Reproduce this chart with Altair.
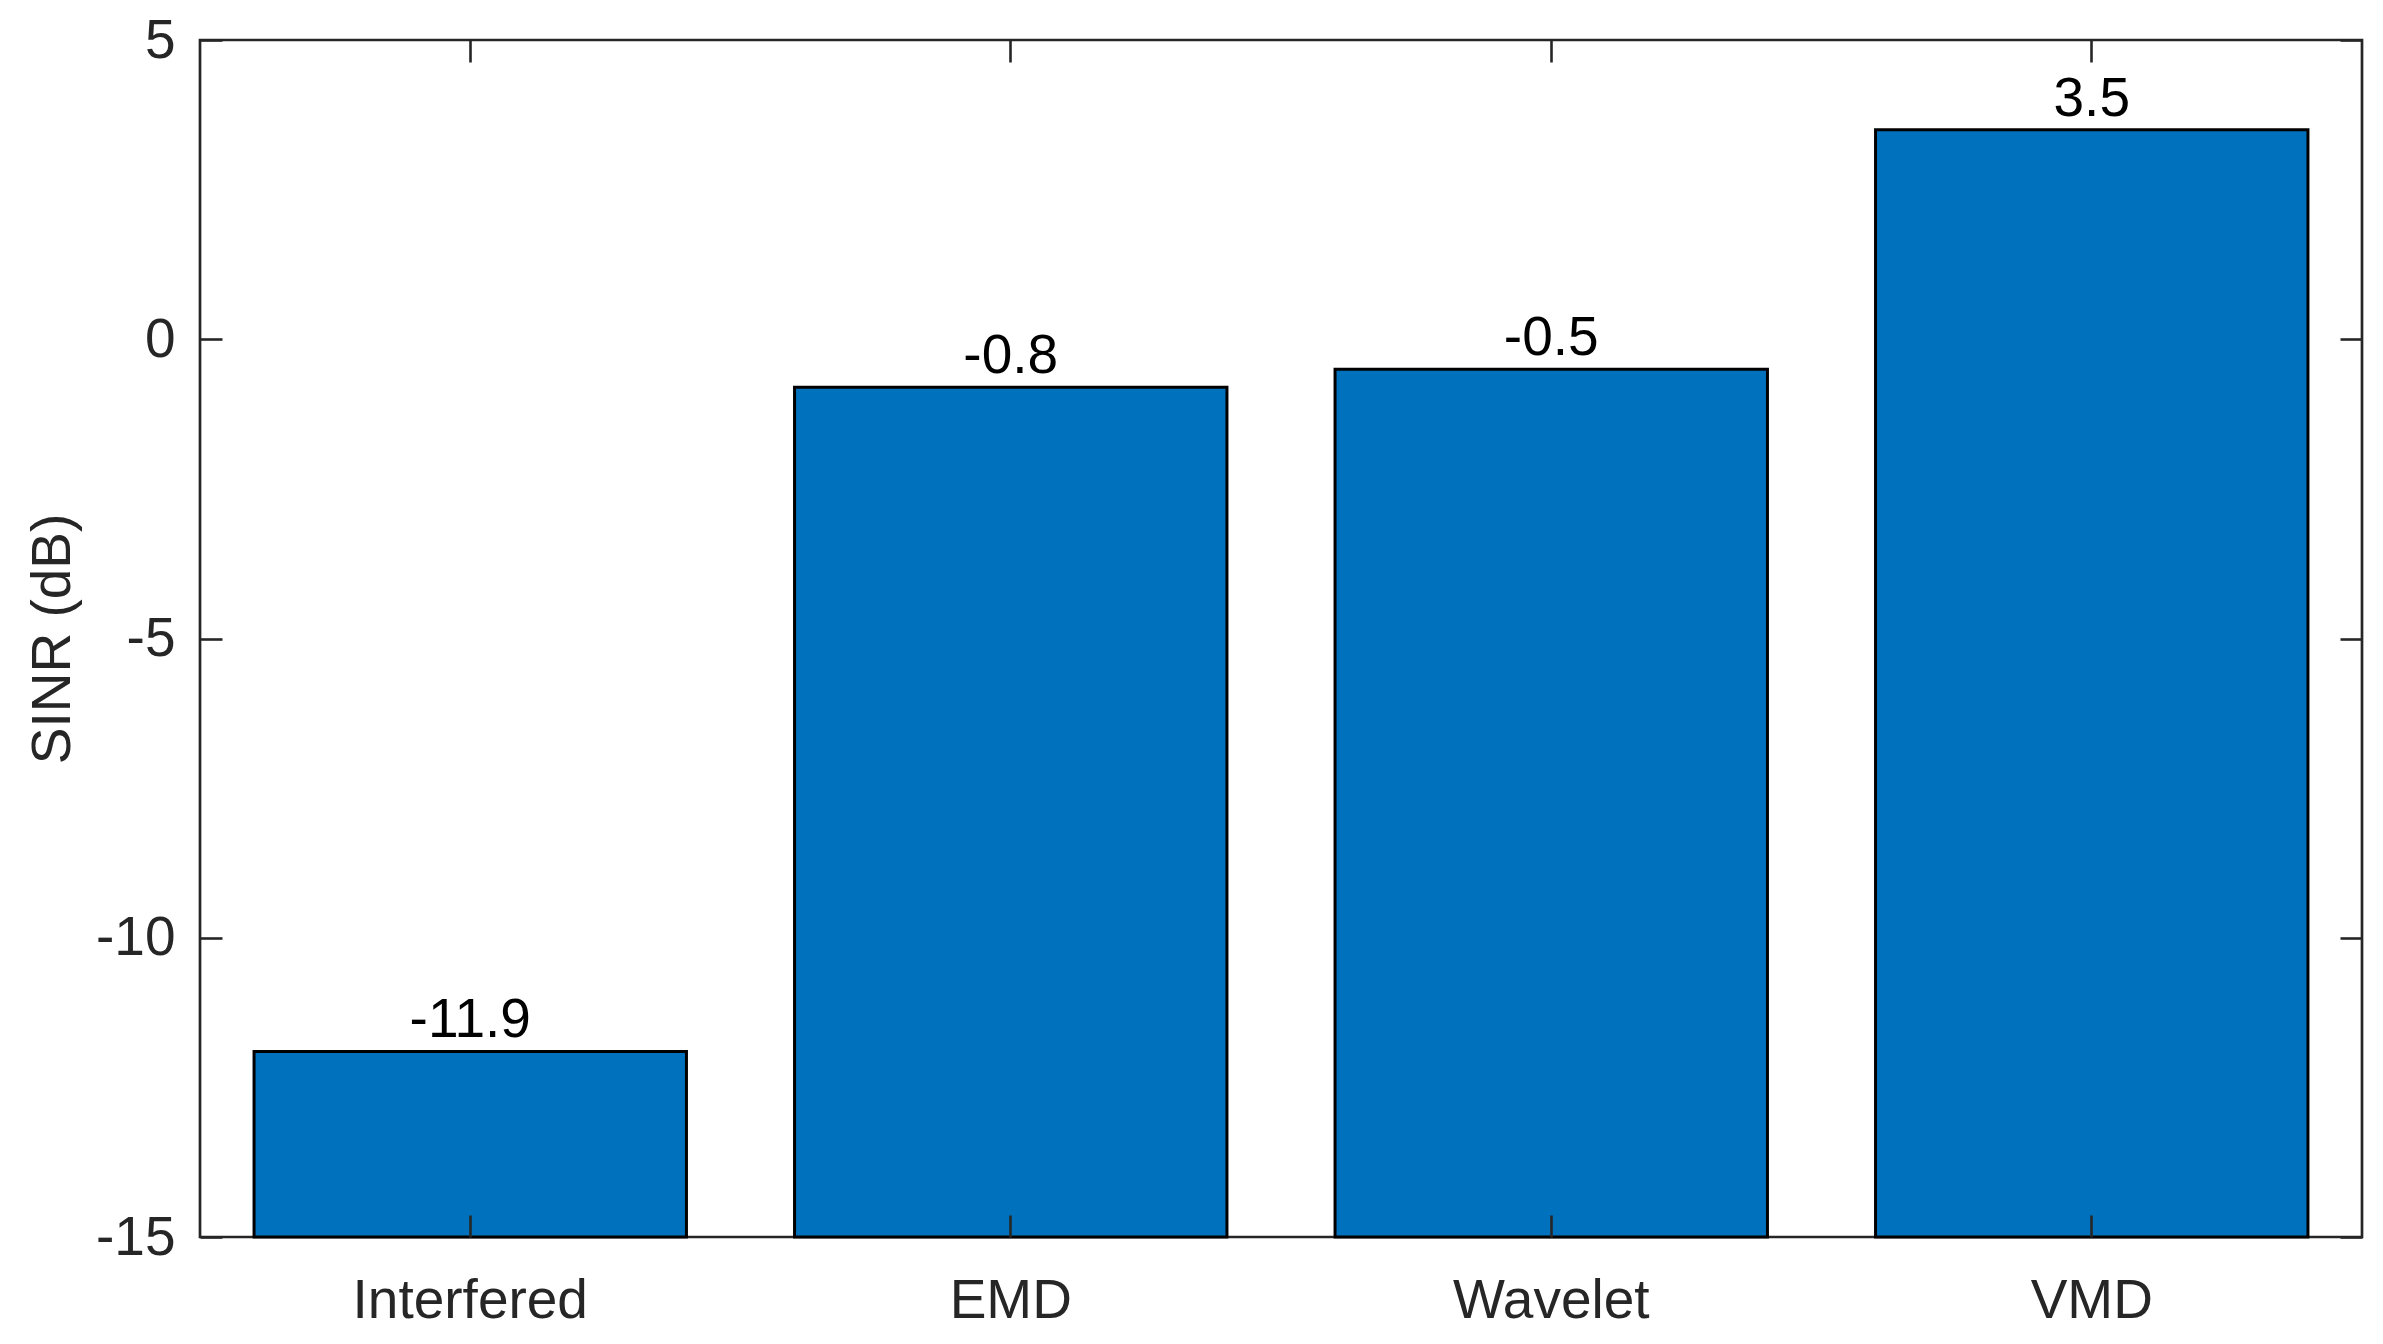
import altair as alt
import pandas as pd

categories = ["Interfered", "EMD", "Wavelet", "VMD"]
sinr_values = [-11.9, -0.8, -0.5, 3.5]
value_labels = ["-11.9", "-0.8", "-0.5", "3.5"]
y_ticks = [-15, -10, -5, 0, 5]
y_base = -15

df = pd.DataFrame({"cat": categories, "val": sinr_values, "label": value_labels})

FONT = "Liberation Sans"
AXC = "#262626"
FS = 55

xscale = alt.Scale(domain=categories, paddingInner=0.2, paddingOuter=0.1)
yscale = alt.Scale(domain=[-15, 5], nice=False, zero=False)

base = alt.Chart(df)

bars = base.mark_bar(color="#0072BD", stroke="black", strokeWidth=3).encode(
    x=alt.X("cat:N", sort=categories, scale=xscale,
            axis=alt.Axis(orient="bottom", title=None, ticks=False, tickSize=0, domain=False,
                          labelAngle=0, labelPadding=80, labelBaseline="alphabetic",
                          labelLimit=0, labelOverlap=False,
                          labelFont=FONT, labelFontSize=FS, labelColor=AXC)),
    y=alt.Y("val:Q", scale=yscale,
            axis=alt.Axis(orient="left", values=y_ticks, ticks=False, tickSize=0, domain=False,
                          grid=False, labelPadding=25, labelFont=FONT, labelFontSize=FS,
                          labelLimit=0, labelOverlap=False,
                          labelColor=AXC, labelExpr="'' + datum.value",
                          title="SINR (dB)", titleFont=FONT, titleFontSize=FS,
                          titleFontWeight="normal", titleColor=AXC, titleX=-131, titleY=598.5,
                          titleAngle=270, titleBaseline="alphabetic", titleAlign="center",
                          titleLimit=0)),
    y2=alt.datum(y_base),
)

text = base.mark_text(baseline="alphabetic", dy=-14, font=FONT, fontSize=FS, color="black").encode(
    x=alt.X("cat:N", sort=categories, scale=xscale, axis=None),
    y=alt.Y("val:Q", scale=yscale, axis=None),
    text="label:N",
)

def tick_axis(orient, values=None):
    kw = dict(orient=orient, offset=-22, ticks=True, tickSize=22, tickWidth=2.6,
              tickColor=AXC, labels=False, domain=False, grid=False, title=None, zindex=2)
    if values is not None:
        kw["values"] = values
    return alt.Axis(**kw)

ticks_lb = base.mark_point(opacity=0).encode(
    x=alt.X("cat:N", sort=categories, scale=xscale, axis=tick_axis("bottom")),
    y=alt.Y("val:Q", scale=yscale, axis=tick_axis("left", y_ticks)),
)
ticks_rt = base.mark_point(opacity=0).encode(
    x=alt.X("cat:N", sort=categories, scale=xscale, axis=tick_axis("top")),
    y=alt.Y("val:Q", scale=yscale, axis=tick_axis("right", y_ticks)),
)

chart = alt.layer(bars, text, ticks_lb, ticks_rt).resolve_axis(
    x="independent", y="independent"
).properties(
    width=2162, height=1197,
    autosize=alt.AutoSizeParams(type="none"),
    padding={"left": 192, "top": 32, "right": 12, "bottom": 97},
    background="white",
).configure_view(
    stroke=AXC, strokeWidth=2.7
)

chart.save("out.html", embed_options={"renderer": "svg", "actions": False})
